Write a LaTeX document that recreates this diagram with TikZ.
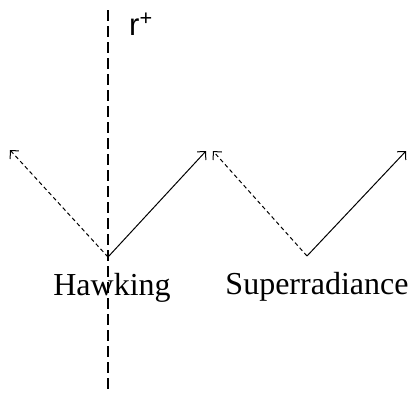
\documentclass[tikz,border=0pt]{standalone}
\usepackage{fontspec}
\setmainfont{Liberation Serif}
\setsansfont{Liberation Sans}
\usetikzlibrary{arrows.meta}
\begin{document}
\begin{tikzpicture}[x=1pt,y=-1pt,horizon/.style={line width=1.2pt, dash pattern=on 11pt off 5pt},ray/.style={line width=1pt, -{Straight Barb[length=6pt,width=12pt]}},back/.style={ray, dash pattern=on 4pt off 3pt},label/.style={font=\fontsize{32}{38}\selectfont, anchor=base, inner sep=0pt}]
\useasboundingbox (0,0) rectangle (414,392);
% event horizon
\coordinate (htop) at (108,10); \coordinate (hbot) at (108,392);
\draw[horizon] (htop) -- (hbot);
\node[font=\sffamily\fontsize{31}{36}\selectfont, anchor=base west, inner sep=0pt] (rplus) at (129,35) {r\textsuperscript{+}};
% Hawking pair
\coordinate (hawko) at (108,257); \coordinate (hawkl) at (10,150); \coordinate (hawkr) at (206,151);
\draw[back] (hawko) -- (hawkl); \draw[ray] (hawko) -- (hawkr);
\node[label] (hawk) at (112,295) {Hawking};
% superradiance pair
\coordinate (supo) at (307,256); \coordinate (supl) at (213,151); \coordinate (supr) at (406,151);
\draw[back] (supo) -- (supl); \draw[ray] (supo) -- (supr);
\node[label] (super) at (317,294) {Superradiance};
\end{tikzpicture}
\end{document}
